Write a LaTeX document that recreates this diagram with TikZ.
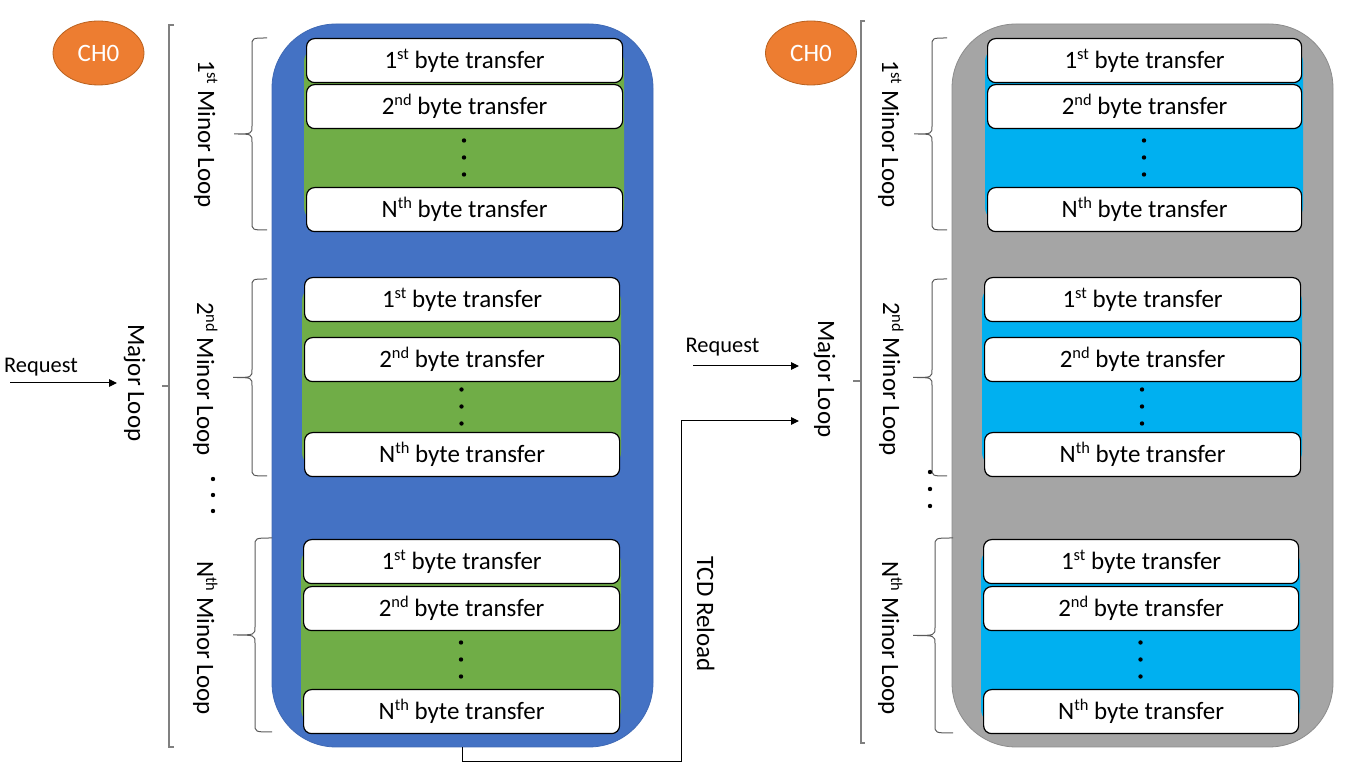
\documentclass[tikz,border=0pt]{standalone}
\usepackage{fontspec}
\setmainfont{Carlito}
\usetikzlibrary{arrows.meta,shapes.geometric}
\definecolor{blueC}{HTML}{4472C4}
\definecolor{greenC}{HTML}{70AD47}
\definecolor{grayC}{HTML}{A5A5A5}
\definecolor{cyanC}{HTML}{00B0F0}
\definecolor{orangeC}{HTML}{ED7D31}
\definecolor{orangeD}{HTML}{B9611F}
\definecolor{brkC}{HTML}{808080}
\definecolor{braceC}{HTML}{5A5A5A}
\newcommand\supx[1]{\raisebox{0.36em}{\fontsize{8.2}{8.2}\selectfont #1}}
% loop block: #1 name, #2 xl, #3 xr, #4 y1, #5 y2, #6 yN, #7 fill colour
\newcommand\loopblk[7]{%
  \pgfmathsetmacro\bw{(#3-#2)/2}%
  \fill[#7, rounded corners=8pt] (#2-2,#4+8) rectangle (#3+2,#6+36);
  \node[bytebox, minimum width=\bw pt, anchor=north west] (#1a) at (#2,#4) {1\supx{st} byte transfer};
  \node[bytebox, minimum width=\bw pt, anchor=north west] (#1b) at (#2,#5) {2\supx{nd} byte transfer};
  \node[bytebox, minimum width=\bw pt, anchor=north west] (#1n) at (#2,#6) {N\supx{th} byte transfer};
  \fill ({(#2+#3)/2},{(#5+44+#6)/2-17}) circle (1.1pt);
  \fill ({(#2+#3)/2},{(#5+44+#6)/2}) circle (1.1pt);
  \fill ({(#2+#3)/2},{(#5+44+#6)/2+17}) circle (1.1pt);
}
% curly brace: #1 x line, #2 x tick end, #3 x tip, #4 top, #5 bottom
\newcommand\curlyb[5]{%
  \draw[bracestyle] (#2,#4) .. controls (#1,#4) .. (#1,#4+8)
    -- (#1,{(#4+#5)/2-8}) .. controls (#1,{(#4+#5)/2}) .. (#3,{(#4+#5)/2})
    .. controls (#1,{(#4+#5)/2}) .. (#1,{(#4+#5)/2+8})
    -- (#1,#5-8) .. controls (#1,#5) .. (#2,#5);
}
\begin{document}
\begin{tikzpicture}[x=0.5pt,y=-0.5pt,
  font=\fontsize{12.5}{15}\selectfont,
  bytebox/.style={draw=black, line width=0.6pt, fill=white, rounded corners=4pt,
    minimum height=22pt, inner sep=0pt},
  bracestyle/.style={draw=braceC, line width=0.5pt},
  majorbrk/.style={draw=brkC, line width=0.9pt},
  arr/.style={-{Triangle[length=4pt,width=3.8pt]}, line width=0.5pt},
  chnode/.style={ellipse, fill=orangeC, draw=orangeD, line width=0.4pt,
    minimum width=45.5pt, minimum height=32pt, inner sep=0pt, text=white},
  vlabel/.style={rotate=-90, anchor=base, inner sep=0pt},
  reqfont/.style={font=\fontsize{11.2}{13}\selectfont}
]
\useasboundingbox (0,0) rectangle (1351,769);

% ---------- left panel ----------
\node[fill=blueC, draw=blueC!92!black, line width=0.4pt, rounded corners=32pt,
  minimum width=190.5pt, minimum height=361.5pt, inner sep=0pt] (blueL) at (462.5,385.5) {};
\loopblk{La}{306}{622}{38}{84}{187}{greenC}
\loopblk{Lb}{304}{619}{277}{337}{432}{greenC}
\loopblk{Lc}{303}{619}{539}{586}{689}{greenC}

\node[chnode] (chL) at (98.5,53) {CH0};

\draw[majorbrk] (174,25) -- (169,25) -- (169,747) -- (174,747);
\draw[majorbrk] (169,386) -- (162,386);
\node[vlabel] (majL) at (128,383) {Major Loop};

\curlyb{252}{267}{234}{38}{230}
\curlyb{252}{267}{233}{279}{476}
\curlyb{255}{272}{233}{538}{732}
\node[vlabel] (minLa) at (198,134) {1\supx{st} Minor Loop};
\node[vlabel] (minLb) at (197,379) {2\supx{nd} Minor Loop};
\node[vlabel] (minLc) at (197,638) {N\supx{th} Minor Loop};
\fill (213,479) circle (1.1pt);
\fill (213,495) circle (1.1pt);
\fill (213,511) circle (1.1pt);

\node[reqfont, anchor=base] (reqTL) at (41,373) {Request};
\coordinate (reqLs) at (10,383);
\coordinate (reqLe) at (117,383);
\draw[arr] (reqLs) -- (reqLe);

% ---------- right panel ----------
\node[fill=grayC, draw=black!45, line width=0.4pt, rounded corners=32pt,
  minimum width=190.5pt, minimum height=361.5pt, inner sep=0pt] (grayR) at (1142.5,385.5) {};
\loopblk{Ra}{987}{1301}{38}{84}{187}{cyanC}
\loopblk{Rb}{984}{1300}{277}{337}{432}{cyanC}
\loopblk{Rc}{983}{1298}{539}{586}{689}{cyanC}

\node[chnode] (chR) at (811,53) {CH0};

\draw[majorbrk] (865,21) -- (861,21) -- (861,743) -- (865,743);
\draw[majorbrk] (861,381) -- (853,381);
\node[vlabel] (majR) at (818,379) {Major Loop};

\curlyb{932}{947}{914}{38}{230}
\curlyb{932}{947}{913}{279}{476}
\curlyb{935}{953}{913}{538}{733}
\node[vlabel] (minRa) at (882,134) {1\supx{st} Minor Loop};
\node[vlabel] (minRb) at (883,379) {2\supx{nd} Minor Loop};
\node[vlabel] (minRc) at (882,638) {N\supx{th} Minor Loop};
\fill (930,472) circle (1.1pt);
\fill (930,489) circle (1.1pt);
\fill (930,506) circle (1.1pt);

\node[reqfont, anchor=base] (reqTR) at (722.5,353) {Request};
\coordinate (reqRs) at (693,366);
\coordinate (reqRe) at (799,366);
\draw[arr] (reqRs) -- (reqRe);

% ---------- TCD reload ----------
\coordinate (tcdBot) at (681,762);
\coordinate (tcdEnd) at (799,421);
\draw[arr] (blueL.south) |- (tcdBot) |- (tcdEnd);
\node[vlabel] (tcd) at (697,614) {TCD Reload};
\end{tikzpicture}
\end{document}
